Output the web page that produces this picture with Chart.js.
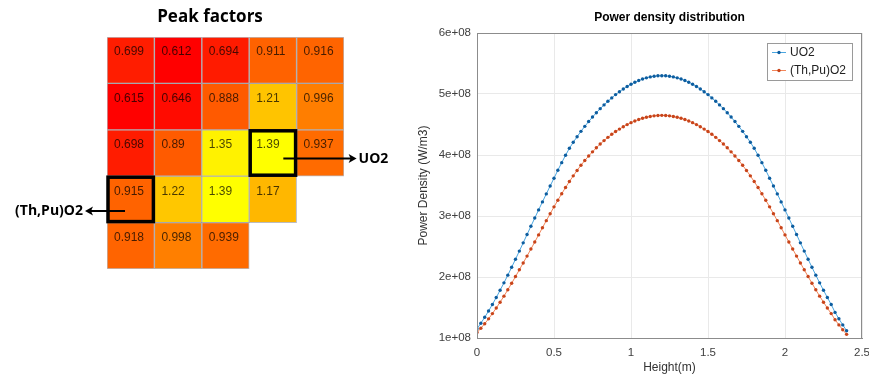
<!DOCTYPE html>
<html>
<head>
<meta charset="utf-8">
<script src="https://cdn.jsdelivr.net/npm/chart.js@4.4.0/dist/chart.umd.min.js"></script>
<style>
  html, body { margin: 0; padding: 0; background: #fff; }
  #wrap { position: relative; width: 869px; height: 375px; overflow: hidden; }
  #heat { position: absolute; left: 0; top: 0; }
  #power { position: absolute; left: 410px; top: 0; }
</style>
</head>
<body>
<div id="wrap">
  <canvas id="heat" width="420" height="375"></canvas>
  <canvas id="power" width="459" height="375"></canvas>
</div>
<script>
// ---- peak factor map (rows top to bottom) ----
const columns = ['1', '2', '3', '4', '5'];
const row1 = [0.699, 0.612, 0.694, 0.911, 0.916];
const row2 = [0.615, 0.646, 0.888, 1.21, 0.996];
const row3 = [0.698, 0.89, 1.35, 1.39, 0.937];
const row4 = [0.915, 1.22, 1.39, 1.17, null];
const row5 = [0.918, 0.998, 0.939, null, null];
const peakRows = [row1, row2, row3, row4, row5];

// marked cells [row, col]
const cellUO2 = [2, 3];
const cellThPu = [3, 0];

// ---- power density along height (values in 1e+08 W/m3) ----
const heights = [0, 0.025, 0.05, 0.075, 0.1, 0.125, 0.15, 0.175, 0.2, 0.225, 0.25, 0.275, 0.3, 0.325, 0.35, 0.375,
  0.4, 0.425, 0.45, 0.475, 0.5, 0.525, 0.55, 0.575, 0.6, 0.625, 0.65, 0.675, 0.7, 0.725, 0.75, 0.775,
  0.8, 0.825, 0.85, 0.875, 0.9, 0.925, 0.95, 0.975, 1.0, 1.025, 1.05, 1.075, 1.1, 1.125, 1.15, 1.175,
  1.2, 1.225, 1.25, 1.275, 1.3, 1.325, 1.35, 1.375, 1.4, 1.425, 1.45, 1.475, 1.5, 1.525, 1.55, 1.575,
  1.6, 1.625, 1.65, 1.675, 1.7, 1.725, 1.75, 1.775, 1.8, 1.825, 1.85, 1.875, 1.9, 1.925, 1.95, 1.975,
  2.0, 2.025, 2.05, 2.075, 2.1, 2.125, 2.15, 2.175, 2.2, 2.225, 2.25, 2.275, 2.3, 2.325, 2.35, 2.375, 2.4];

const uo2Density = [1.15, 1.242, 1.339, 1.442, 1.55, 1.664, 1.782, 1.904, 2.03, 2.16, 2.291, 2.425, 2.56, 2.696, 2.831, 2.966,
  3.10, 3.231, 3.362, 3.492, 3.62, 3.75, 3.875, 3.995, 4.11, 4.208, 4.30, 4.388, 4.47, 4.548, 4.622, 4.693,
  4.76, 4.821, 4.88, 4.936, 4.99, 5.038, 5.082, 5.123, 5.16, 5.193, 5.221, 5.245, 5.265, 5.28, 5.291, 5.298,
  5.30, 5.298, 5.291, 5.28, 5.265, 5.245, 5.221, 5.193, 5.16, 5.123, 5.082, 5.038, 4.99, 4.936, 4.88, 4.821,
  4.76, 4.693, 4.622, 4.548, 4.47, 4.388, 4.30, 4.208, 4.11, 3.995, 3.875, 3.75, 3.62, 3.492, 3.362, 3.231,
  3.10, 2.966, 2.831, 2.696, 2.56, 2.425, 2.291, 2.16, 2.03, 1.904, 1.782, 1.664, 1.55, 1.42, 1.315, 1.215, 1.12];

const thpuDensity = [1.09, 1.159, 1.234, 1.314, 1.40, 1.491, 1.587, 1.686, 1.79, 1.898, 2.007, 2.118, 2.23, 2.343, 2.458, 2.574,
  2.69, 2.808, 2.924, 3.038, 3.15, 3.259, 3.365, 3.467, 3.565, 3.658, 3.747, 3.831, 3.91, 3.983, 4.052, 4.118,
  4.18, 4.236, 4.289, 4.339, 4.385, 4.425, 4.463, 4.498, 4.53, 4.558, 4.582, 4.602, 4.619, 4.632, 4.642, 4.648,
  4.65, 4.648, 4.642, 4.632, 4.619, 4.602, 4.582, 4.558, 4.53, 4.498, 4.463, 4.425, 4.385, 4.339, 4.289, 4.236,
  4.18, 4.118, 4.052, 3.983, 3.91, 3.831, 3.747, 3.658, 3.565, 3.467, 3.365, 3.259, 3.15, 3.038, 2.924, 2.808,
  2.69, 2.574, 2.458, 2.343, 2.23, 2.118, 2.007, 1.898, 1.79, 1.686, 1.587, 1.491, 1.40, 1.30, 1.215, 1.135, 1.06];

const seriesNames = ['UO2', '(Th,Pu)O2'];

Chart.defaults.font.family = '"Liberation Sans", Arial, sans-serif';

// autumn colour map: red -> yellow
const allFactors = peakRows.flat().filter(v => v != null);
const fMin = Math.min(...allFactors);
const fMax = Math.max(...allFactors);
function autumn(v) {
  const t = (v - fMin) / (fMax - fMin);
  return 'rgb(255,' + Math.round(255 * t) + ',0)';
}

// draws arrow with a filled head at (x2, y)
function arrow(ctx, x1, x2, y) {
  const dir = x2 > x1 ? 1 : -1;
  ctx.beginPath();
  ctx.moveTo(x1, y);
  ctx.lineTo(x2 - dir * 5, y);
  ctx.lineWidth = 2;
  ctx.strokeStyle = '#000';
  ctx.stroke();
  ctx.beginPath();
  ctx.moveTo(x2, y);
  ctx.lineTo(x2 - dir * 8, y - 4.5);
  ctx.lineTo(x2 - dir * 6, y);
  ctx.lineTo(x2 - dir * 8, y + 4.5);
  ctx.closePath();
  ctx.fillStyle = '#000';
  ctx.fill();
}

// cell texts, marked boxes, arrows and title for the map
const heatNotes = {
  id: 'heatNotes',
  afterDatasetsDraw(chart) {
    const { ctx, scales: { x, y } } = chart;
    const cw = x.getPixelForValue(1) - x.getPixelForValue(0);
    const ch = y.getPixelForValue(1) - y.getPixelForValue(0);
    const cell = (r, c) => ({ left: x.getPixelForValue(c) - cw / 2, top: y.getPixelForValue(r) });

    ctx.save();
    ctx.font = '12px "Liberation Sans", Arial, sans-serif';
    ctx.textAlign = 'left';
    ctx.textBaseline = 'middle';
    ctx.fillStyle = 'rgba(0,0,0,0.72)';
    peakRows.forEach((row, r) => {
      row.forEach((v, c) => {
        if (v == null) return;
        const p = cell(r, c);
        ctx.fillText(String(v), p.left + 7, p.top + 15);
      });
    });

    // marked cells
    ctx.lineWidth = 3.5;
    ctx.strokeStyle = '#000';
    [cellUO2, cellThPu].forEach(([r, c]) => {
      const p = cell(r, c);
      ctx.strokeRect(p.left + 1, p.top + 1, cw - 2, ch - 2);
    });

    ctx.font = 'bold 14px "Open Sans", sans-serif';
    // UO2 arrow to the right
    let p = cell(cellUO2[0], cellUO2[1]);
    let ay = p.top + ch * 0.62;
    arrow(ctx, p.left + cw * 0.72, p.left + cw + 60, ay);
    ctx.fillStyle = '#000';
    ctx.textAlign = 'left';
    ctx.fillText(seriesNames[0], p.left + cw + 62, ay);

    // (Th,Pu)O2 arrow to the left
    p = cell(cellThPu[0], cellThPu[1]);
    ay = p.top + ch * 0.75;
    arrow(ctx, p.left + cw * 0.38, p.left - 22, ay);
    ctx.textAlign = 'right';
    ctx.fillText(seriesNames[1], p.left - 24, ay);

    // title
    ctx.font = 'bold 17px "Open Sans", sans-serif';
    ctx.textAlign = 'center';
    ctx.fillText('Peak factors', chart.width / 2, 17);
    ctx.restore();
  }
};

new Chart(document.getElementById('heat'), {
  type: 'bar',
  data: {
    labels: columns,
    datasets: peakRows.map((row, r) => ({
      label: 'row ' + (r + 1),
      data: row.map(v => (v == null ? null : [r, r + 1])),
      backgroundColor: row.map(v => (v == null ? 'rgba(0,0,0,0)' : autumn(v))),
      borderColor: 'rgba(120,120,130,0.5)',
      borderWidth: 1,
      borderSkipped: false,
      grouped: false,
      barPercentage: 1,
      categoryPercentage: 1
    }))
  },
  options: {
    responsive: false,
    animation: false,
    layout: { padding: { left: 107, right: 76, top: 37, bottom: 106 } },
    plugins: { legend: { display: false }, tooltip: { enabled: false } },
    scales: {
      x: { display: false },
      y: { display: false, min: 0, max: 5, reverse: true }
    }
  },
  plugins: [heatNotes]
});

// axes box, title and legend for the power chart
const powerDecor = {
  id: 'powerDecor',
  afterDraw(chart) {
    const { ctx, chartArea: a } = chart;
    ctx.save();
    ctx.strokeStyle = '#8c8c8c';
    ctx.lineWidth = 1;
    ctx.strokeRect(a.left + 0.5, a.top + 0.5, a.right - a.left - 1, a.bottom - a.top);

    ctx.fillStyle = '#000';
    ctx.font = 'bold 12px "Liberation Sans", Arial, sans-serif';
    ctx.textAlign = 'center';
    ctx.textBaseline = 'middle';
    ctx.fillText('Power density distribution', (a.left + a.right) / 2, 18);

    // legend
    const bw = 85, bh = 37;
    const lx = a.right - 10 - bw, ly = a.top + 10;
    ctx.fillStyle = '#fff';
    ctx.fillRect(lx, ly, bw, bh);
    ctx.strokeStyle = '#9a9a9a';
    ctx.strokeRect(lx + 0.5, ly + 0.5, bw, bh);
    ctx.font = '12px "Liberation Sans", Arial, sans-serif';
    ctx.textAlign = 'left';
    chart.data.datasets.forEach((ds, i) => {
      const yy = ly + 9.5 + i * 18;
      ctx.strokeStyle = ds.borderColor;
      ctx.beginPath();
      ctx.moveTo(lx + 5, yy);
      ctx.lineTo(lx + 19, yy);
      ctx.stroke();
      ctx.fillStyle = ds.pointBackgroundColor;
      ctx.beginPath();
      ctx.arc(lx + 12, yy, 1.7, 0, Math.PI * 2);
      ctx.fill();
      ctx.fillStyle = '#222';
      ctx.fillText(ds.label, lx + 23, yy);
    });
    ctx.restore();
  }
};

new Chart(document.getElementById('power'), {
  type: 'line',
  data: {
    datasets: [
      {
        label: seriesNames[0],
        data: heights.map((h, i) => ({ x: h, y: uo2Density[i] })),
        borderColor: '#4ba6e0',
        borderWidth: 1,
        pointRadius: 1.7,
        pointBorderWidth: 0,
        pointBackgroundColor: '#0d5d9f',
        tension: 0
      },
      {
        label: seriesNames[1],
        data: heights.map((h, i) => ({ x: h, y: thpuDensity[i] })),
        borderColor: '#f2865a',
        borderWidth: 1,
        pointRadius: 1.7,
        pointBorderWidth: 0,
        pointBackgroundColor: '#c8441a',
        tension: 0
      }
    ]
  },
  options: {
    responsive: false,
    animation: false,
    layout: { padding: { top: 33, right: 7, left: 0, bottom: 0 } },
    plugins: { legend: { display: false }, tooltip: { enabled: false } },
    scales: {
      x: {
        type: 'linear',
        min: 0,
        max: 2.5,
        ticks: { stepSize: 0.5, padding: 8, color: '#404040', font: { size: 11.5 }, callback: v => String(v) },
        grid: { color: '#e9e9e9', drawTicks: false },
        border: { color: '#8c8c8c' },
        title: { display: true, text: 'Height(m)', color: '#333', font: { size: 12 }, padding: { top: 0, bottom: 0 } },
        afterFit(s) { s.height = 37; s.paddingLeft = 0; s.paddingRight = 0; }
      },
      y: {
        min: 1,
        max: 6,
        ticks: { stepSize: 1, padding: 6, color: '#404040', font: { size: 11.5 }, callback: v => v + 'e+08' },
        grid: { color: '#e9e9e9', drawTicks: false },
        border: { color: '#8c8c8c' },
        title: { display: true, text: 'Power Density (W/m3)', color: '#333', font: { size: 12 }, padding: { top: 6, bottom: 0 } },
        afterFit(s) { s.width = 67; }
      }
    }
  },
  plugins: [powerDecor]
});
</script>
</body>
</html>
